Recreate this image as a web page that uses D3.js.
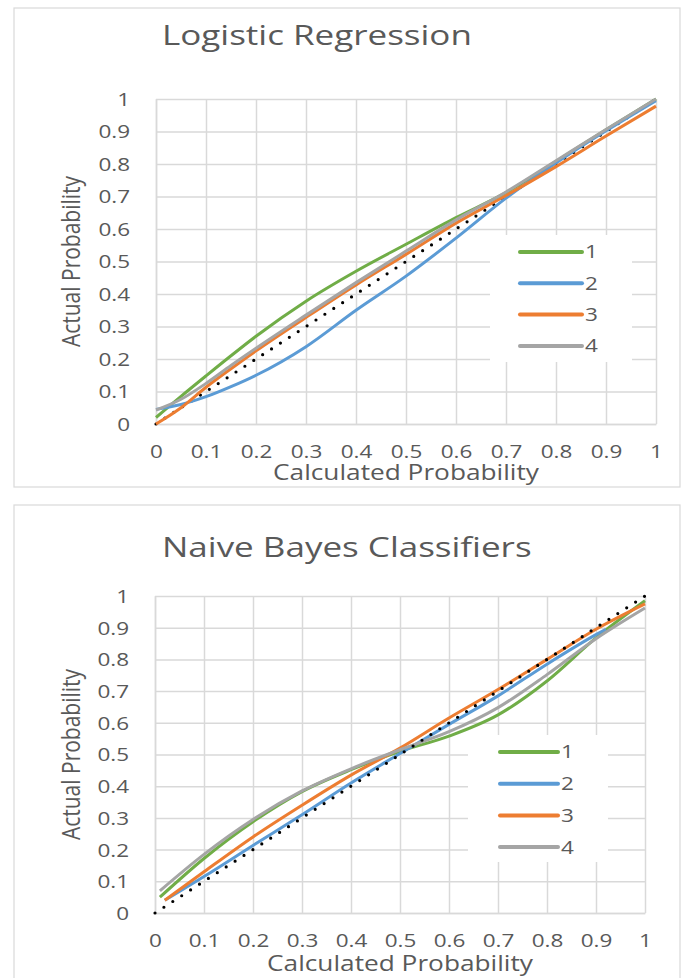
<!DOCTYPE html>
<html>
<head>
<meta charset="utf-8">
<script src="https://cdn.jsdelivr.net/npm/d3@7"></script>
<style>
  body { margin: 0; background: #fff; }
  text { font-family: "Open Sans", sans-serif; fill: #595959; }
</style>
</head>
<body>
<div id="chart"></div>
<script>
// eixos
const tickValues = [0, 0.1, 0.2, 0.3, 0.4, 0.5, 0.6, 0.7, 0.8, 0.9, 1];
const tickLabels = ["0", "0.1", "0.2", "0.3", "0.4", "0.5", "0.6", "0.7", "0.8", "0.9", "1"];
const seriesNames = ["1", "2", "3", "4"];
const seriesColors = ["#70ad47", "#5b9bd5", "#ed7d31", "#a5a5a5"];

// Logistic Regression
const lrX = [0, 0.05, 0.1, 0.15, 0.2, 0.3, 0.4, 0.5, 0.6, 0.7, 0.8, 0.9, 1];
const lrSerie1 = [0.02, 0.085, 0.148, 0.21, 0.27, 0.378, 0.47, 0.553, 0.635, 0.712, 0.808, 0.905, 1.0];
const lrSerie2 = [0.045, 0.06, 0.084, 0.115, 0.15, 0.238, 0.35, 0.455, 0.572, 0.695, 0.803, 0.902, 0.995];
const lrSerie3 = [0.0, 0.05, 0.113, 0.17, 0.225, 0.328, 0.428, 0.522, 0.618, 0.703, 0.792, 0.886, 0.978];
const lrSerie4 = [0.043, 0.076, 0.125, 0.18, 0.233, 0.335, 0.435, 0.532, 0.628, 0.714, 0.81, 0.906, 1.0];

// Naive Bayes
const nbX = [0.01, 0.1, 0.2, 0.3, 0.4, 0.5, 0.6, 0.7, 0.8, 0.9, 1];
const nbX2 = [0.02, 0.1, 0.2, 0.3, 0.4, 0.5, 0.6, 0.7, 0.8, 0.9, 0.92];
const nbX3 = [0.02, 0.1, 0.2, 0.3, 0.4, 0.5, 0.6, 0.7, 0.8, 0.9, 1];
const nbSerie1 = [0.05, 0.172, 0.288, 0.383, 0.452, 0.51, 0.558, 0.625, 0.732, 0.868, 0.985];
const nbSerie2 = [0.04, 0.115, 0.213, 0.31, 0.41, 0.503, 0.595, 0.685, 0.785, 0.878, 0.895];
const nbSerie3 = [0.04, 0.13, 0.24, 0.34, 0.435, 0.52, 0.615, 0.705, 0.8, 0.895, 0.975];
const nbSerie4 = [0.07, 0.185, 0.295, 0.385, 0.455, 0.515, 0.572, 0.648, 0.752, 0.865, 0.962];

const diagonal = [0, 1];

const STRETCH = 1.25; // o grafico original esta esticado na horizontal

class GraficoCalibracao {
    constructor(svg, cfg, series) {
        this.svg = svg;
        this.cfg = cfg;
        this.series = series;
    }

    render() {
        const c = this.cfg;
        const g = this.svg.append("g");

        g.append("rect")
            .attr("x", c.box[0]).attr("y", c.box[1])
            .attr("width", c.box[2] - c.box[0]).attr("height", c.box[3] - c.box[1])
            .attr("fill", "#fff")
            .attr("stroke", "#d9d9d9")
            .attr("stroke-width", 1.2);

        g.append("text")
            .attr("transform", `translate(${c.titleX},${c.titleY}) scale(${STRETCH},1)`)
            .style("font-size", "28px")
            .text(c.title);

        const x = d3.scaleLinear().domain([0, 1]).range([c.left, c.right]);
        const y = d3.scaleLinear().domain([0, 1]).range([c.bottom, c.top]);

        const xAxis = g.append("g")
            .attr("transform", `translate(0,${c.bottom})`)
            .call(d3.axisBottom(x)
                .tickValues(tickValues)
                .tickFormat((d, i) => tickLabels[i])
                .tickSize(-(c.bottom - c.top))
                .tickSizeOuter(0));

        const yAxis = g.append("g")
            .attr("transform", `translate(${c.left},0)`)
            .call(d3.axisLeft(y)
                .tickValues(tickValues)
                .tickFormat((d, i) => tickLabels[i])
                .tickSize(-(c.right - c.left))
                .tickSizeOuter(0));

        [xAxis, yAxis].forEach(a => {
            a.select(".domain").attr("stroke", "#d9d9d9").attr("stroke-width", 1.5);
            a.selectAll(".tick line").attr("stroke", "#d9d9d9").attr("stroke-width", 1.5);
        });

        xAxis.selectAll(".tick text")
            .attr("fill", null)
            .attr("dy", null)
            .attr("y", 34)
            .attr("transform", `scale(${STRETCH},1)`)
            .style("font-size", "18px");

        yAxis.selectAll(".tick text")
            .attr("fill", null)
            .attr("x", -26 / STRETCH)
            .attr("dy", "0.36em")
            .attr("transform", `scale(${STRETCH},1)`)
            .style("font-size", "18px");

        g.append("text")
            .attr("transform", `translate(${(c.left + c.right) / 2},${c.xTitleY}) scale(${STRETCH},1)`)
            .attr("text-anchor", "middle")
            .style("font-size", "21px")
            .text("Calculated Probability");

        g.append("text")
            .attr("transform", `translate(${c.yTitleX},${(c.top + c.bottom) / 2}) rotate(-90) scale(1,${STRETCH})`)
            .attr("text-anchor", "middle")
            .style("font-size", "21px")
            .text("Actual Probability");

        const line = d3.line()
            .x(d => x(d[0]))
            .y(d => y(d[1]))
            .curve(d3.curveMonotoneX);

        const desenhaDiagonal = () => {
            g.append("path")
                .attr("d", line(d3.zip(diagonal, diagonal)))
                .attr("fill", "none")
                .attr("stroke", "#000")
                .attr("stroke-width", 3.2)
                .attr("stroke-linecap", "round")
                .attr("stroke-dasharray", "0 10.6");
        };

        if (!c.dotsOnTop) desenhaDiagonal();

        this.series.forEach((s, i) => {
            g.append("path")
                .attr("d", line(d3.zip(s.x, s.y)))
                .attr("fill", "none")
                .attr("stroke", seriesColors[i])
                .attr("stroke-width", 3)
                .attr("stroke-linejoin", "round");
        });

        if (c.dotsOnTop) desenhaDiagonal();

        // legenda
        const lb = c.legendBox;
        g.append("rect")
            .attr("x", lb[0]).attr("y", lb[1])
            .attr("width", lb[2] - lb[0]).attr("height", lb[3] - lb[1])
            .attr("fill", "#fff");

        const itens = g.selectAll(".leg")
            .data(seriesNames)
            .enter()
            .append("g")
            .attr("transform", (d, i) => `translate(0,${c.legendY + i * c.legendStep})`);

        itens.append("line")
            .attr("x1", c.legendX1).attr("x2", c.legendX2)
            .attr("stroke", (d, i) => seriesColors[i])
            .attr("stroke-width", 4)
            .attr("stroke-linecap", "round");

        itens.append("text")
            .attr("transform", `translate(${c.legendX2 + 3},0) scale(${STRETCH},1)`)
            .attr("dy", "0.36em")
            .style("font-size", "18px")
            .text(d => d);
    }
}

const width = 686;
const height = 978;

const svg = d3.select("#chart")
    .append("svg")
    .attr("width", width)
    .attr("height", height);

svg.append("rect").attr("width", width).attr("height", height).attr("fill", "#fff");

const graficoLR = new GraficoCalibracao(svg, {
    title: "Logistic Regression",
    box: [14, 8, 680, 487],
    left: 156, right: 656, top: 99, bottom: 424,
    titleX: 162, titleY: 45,
    xTitleY: 480, yTitleX: 80,
    legendBox: [490, 235, 632, 362],
    legendX1: 520, legendX2: 582, legendY: 252, legendStep: 31.3,
    dotsOnTop: false
}, [
    { x: lrX, y: lrSerie1 },
    { x: lrX, y: lrSerie2 },
    { x: lrX, y: lrSerie3 },
    { x: lrX, y: lrSerie4 }
]);
graficoLR.render();

const graficoNB = new GraficoCalibracao(svg, {
    title: "Naive Bayes Classifiers",
    box: [14, 505, 680, 995],
    left: 155, right: 645, top: 596, bottom: 913,
    titleX: 162, titleY: 557,
    xTitleY: 971, yTitleX: 80,
    legendBox: [468, 735, 608, 862],
    legendX1: 500, legendX2: 558, legendY: 752, legendStep: 31.7,
    dotsOnTop: true
}, [
    { x: nbX, y: nbSerie1 },
    { x: nbX2, y: nbSerie2 },
    { x: nbX3, y: nbSerie3 },
    { x: nbX, y: nbSerie4 }
]);
graficoNB.render();
</script>
</body>
</html>
